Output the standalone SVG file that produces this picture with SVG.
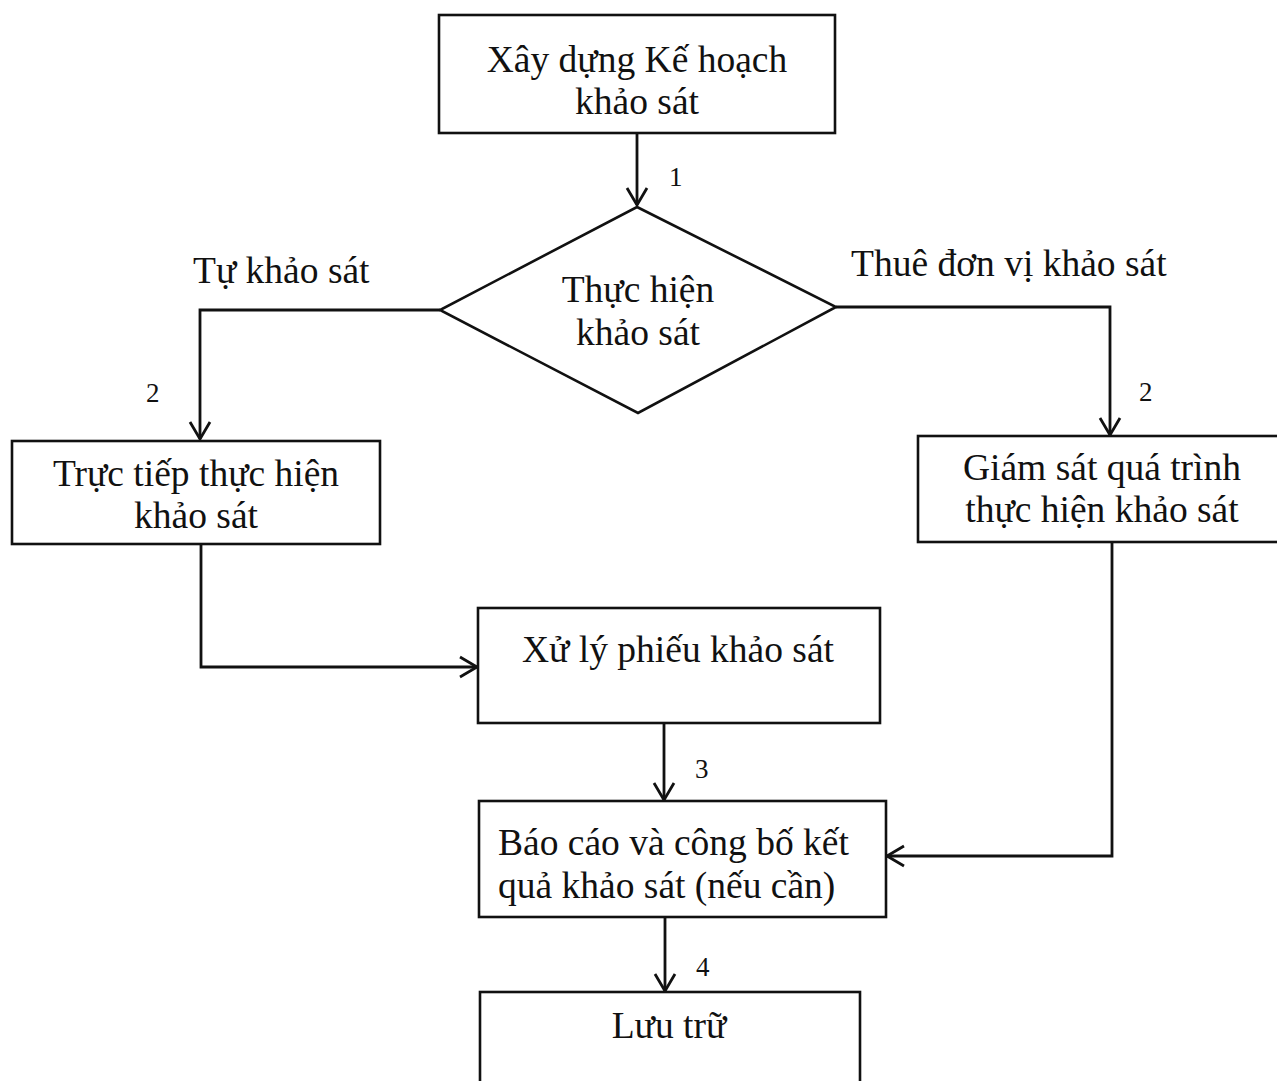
<svg xmlns="http://www.w3.org/2000/svg" width="1277" height="1081" viewBox="0 0 1277 1081">
<defs>
<marker id="arr" markerWidth="24" markerHeight="24" viewBox="-20 -12 24 24" refX="0" refY="0" orient="auto" markerUnits="userSpaceOnUse">
<path d="M-17,-10 L0,0 L-17,10" fill="none" stroke="#111" stroke-width="2.8"/>
</marker>
</defs>
<style>
.box{fill:#fff;stroke:#111;stroke-width:2.6}
.t{font-family:"Liberation Serif","Times New Roman",serif;font-size:37.5px;fill:#111;text-anchor:middle}
.l{font-family:"Liberation Serif","Times New Roman",serif;font-size:37.5px;fill:#111}
.n{font-family:"Liberation Serif","Times New Roman",serif;font-size:27px;fill:#111}
.c{fill:none;stroke:#111;stroke-width:2.8}
</style>
<rect width="1277" height="1081" fill="#fff"/>
<g id="connectors">
<path class="c" d="M637,133 L637,205" marker-end="url(#arr)"/>
<path class="c" d="M440,310 L200,310 L200,439" marker-end="url(#arr)"/>
<path class="c" d="M836,307 L1110,307 L1110,435" marker-end="url(#arr)"/>
<path class="c" d="M201,544 L201,667 L477,667" marker-end="url(#arr)"/>
<path class="c" d="M664,723 L664,800" marker-end="url(#arr)"/>
<path class="c" d="M1112,542 L1112,856 L887,856" marker-end="url(#arr)"/>
<path class="c" d="M665,917 L665,991" marker-end="url(#arr)"/>
<text class="n" x="669" y="186">1</text>
<text class="n" x="146" y="402">2</text>
<text class="n" x="1139" y="401">2</text>
<text class="n" x="695" y="778">3</text>
<text class="n" x="696" y="976">4</text>
<text class="l" x="193" y="283">Tự khảo sát</text>
<text class="l" x="851" y="276">Thuê đơn vị khảo sát</text>
</g>
<g id="n1">
<rect class="box" x="439" y="15" width="396" height="118"/>
<text class="t" x="637" y="72">Xây dựng Kế hoạch</text>
<text class="t" x="637" y="114">khảo sát</text>
</g>
<g id="n2">
<polygon class="box" points="637,207 836,307 638,413 440,310"/>
<text class="t" x="638" y="302">Thực hiện</text>
<text class="t" x="638" y="345">khảo sát</text>
</g>
<g id="n3">
<rect class="box" x="12" y="441" width="368" height="103"/>
<text class="t" x="196" y="486">Trực tiếp thực hiện</text>
<text class="t" x="196" y="528">khảo sát</text>
</g>
<g id="n4">
<rect class="box" x="918" y="436" width="362" height="106"/>
<text class="t" x="1102" y="480">Giám sát quá trình</text>
<text class="t" x="1102" y="522">thực hiện khảo sát</text>
</g>
<g id="n5">
<rect class="box" x="478" y="608" width="402" height="115"/>
<text class="t" x="678" y="662">Xử lý phiếu khảo sát</text>
</g>
<g id="n6">
<rect class="box" x="479" y="801" width="407" height="116"/>
<text class="l" x="498" y="855">Báo cáo và công bố kết</text>
<text class="l" x="498" y="898">quả khảo sát (nếu cần)</text>
</g>
<g id="n7">
<rect class="box" x="480" y="992" width="380" height="120"/>
<text class="t" x="669" y="1038">Lưu trữ</text>
</g>
</svg>
